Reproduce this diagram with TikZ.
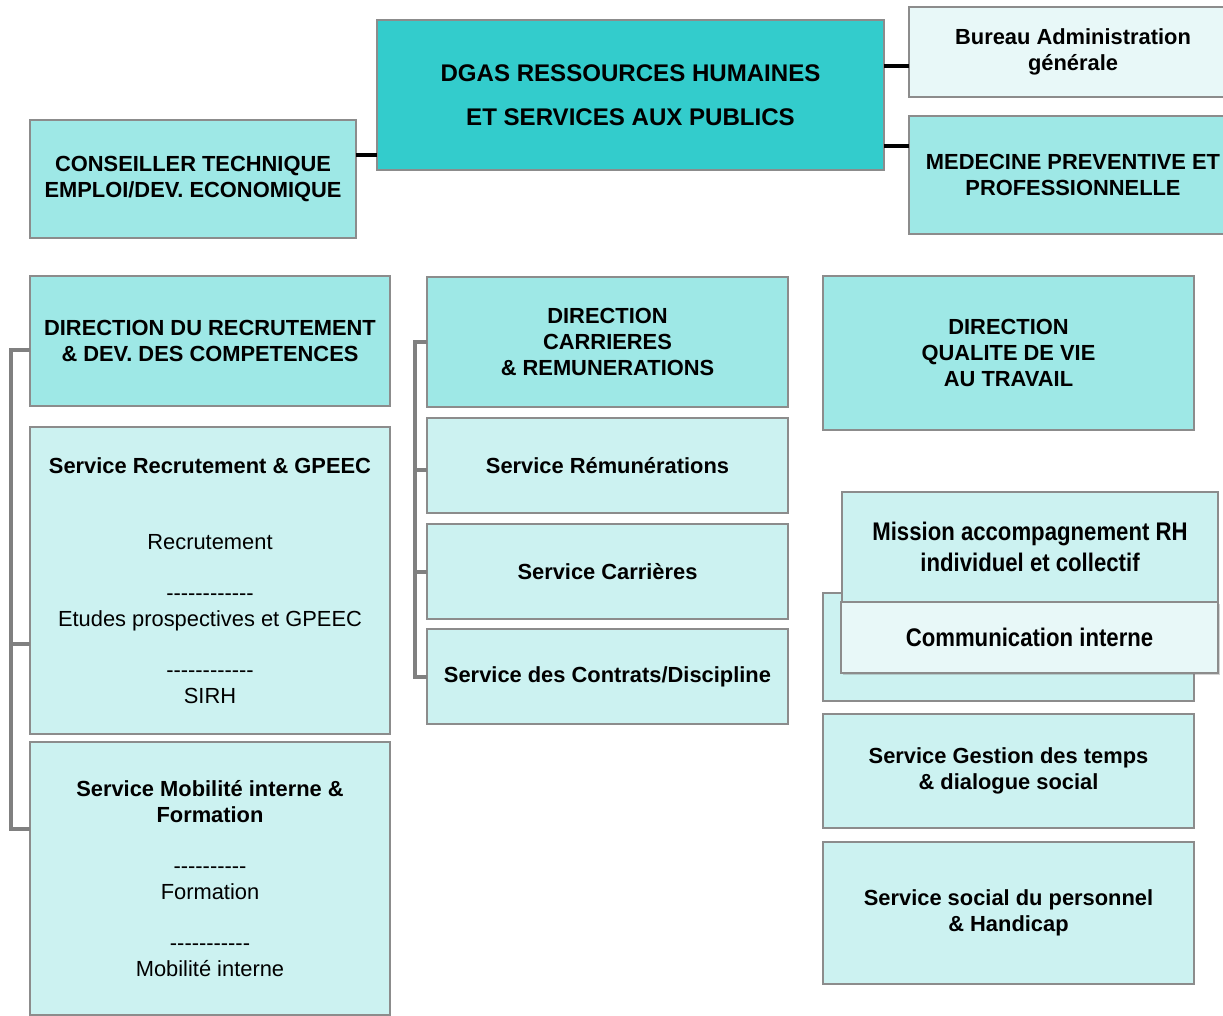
\documentclass[tikz,border=0pt]{standalone}
\usepackage{fontspec}
\setmainfont{Liberation Sans}
\newfontfamily\narrowfont{Liberation Sans}[FakeStretch=0.87]
\usepackage{tikz}
\usetikzlibrary{shadows}

\definecolor{dgasteal}{HTML}{33CCCC}
\definecolor{dirteal}{HTML}{9EE8E6}
\definecolor{servteal}{HTML}{CCF2F1}
\definecolor{paleteal}{HTML}{E8F8F8}
\definecolor{boxline}{HTML}{8C8C8C}
\newcommand\dashrow[1]{\foreach \k in {1,...,#1}{-\kern0pt}}

\begin{document}
\begin{tikzpicture}[x=0.02cm, y=-0.02cm,
  every node/.style={draw=boxline, line width=1pt, align=center, inner sep=2pt, outer sep=0pt, font=\fontsize{12.45}{14.8}\selectfont\bfseries},
  dirbox/.style={fill=dirteal},
  servbox/.style={fill=servteal},
  palebox/.style={fill=paleteal},
  link/.style={line width=2.2pt, black},
  bracket/.style={line width=2pt, color=gray}]
\useasboundingbox (0,0) rectangle (1223,1016);
\clip (0,0) rectangle (1223,1016);

\node[fill=dgasteal, minimum width=10.14cm, minimum height=3cm, font=\fontsize{13.7}{15.6}\selectfont\bfseries] (dgas) at (630.5,95) {DGAS RESSOURCES HUMAINES\\[0.33cm]ET SERVICES AUX PUBLICS};
\node[palebox, minimum width=6.56cm, minimum height=1.8cm] (bureau) at (1073,52) {Bureau Administration\\g\'en\'erale};
\node[dirbox, minimum width=6.56cm, minimum height=2.36cm] (medecine) at (1073,175) {MEDECINE PREVENTIVE ET\\PROFESSIONNELLE};
\node[dirbox, minimum width=6.52cm, minimum height=2.36cm] (conseiller) at (193,179) {CONSEILLER TECHNIQUE\\EMPLOI/DEV. ECONOMIQUE};

\node[dirbox, minimum width=7.2cm, minimum height=2.6cm] (dirrec) at (210,341) {DIRECTION DU RECRUTEMENT\\\& DEV. DES COMPETENCES};
\node[servbox, minimum width=7.2cm, minimum height=6.14cm] (servrec) at (210,580.5) {Service Recrutement \& GPEEC\\[1cm]{\mdseries Recrutement}\\[0.5cm]{\mdseries\dashrow{12}}\\{\mdseries Etudes prospectives et GPEEC}\\[0.5cm]{\mdseries\dashrow{12}}\\{\mdseries SIRH}};
\node[servbox, minimum width=7.2cm, minimum height=5.46cm] (servmob) at (210,878.5) {Service Mobilit\'e interne \&\\Formation\\[0.5cm]{\mdseries\dashrow{10}}\\{\mdseries Formation}\\[0.5cm]{\mdseries\dashrow{11}}\\{\mdseries Mobilit\'e interne}};

\node[dirbox, minimum width=7.22cm, minimum height=2.6cm] (dircar) at (607.5,342) {DIRECTION\\CARRIERES\\\& REMUNERATIONS};
\node[servbox, minimum width=7.22cm, minimum height=1.9cm] (servrem) at (607.5,465.5) {Service R\'emun\'erations};
\node[servbox, minimum width=7.22cm, minimum height=1.9cm] (servcar) at (607.5,571.5) {Service Carri\`eres};
\node[servbox, minimum width=7.22cm, minimum height=1.9cm] (servcon) at (607.5,676.5) {Service des Contrats/Discipline};

\node[dirbox, minimum width=7.42cm, minimum height=3.08cm] (dirqual) at (1008.5,353) {DIRECTION\\QUALITE DE VIE\\AU TRAVAIL};
\node[servbox, minimum width=7.42cm, minimum height=2.16cm] (backbox) at (1008.5,647) {};
\node[servbox, minimum width=7.52cm, minimum height=2.2cm, font=\narrowfont\fontsize{14.5}{17.6}\selectfont\bfseries] (mission) at (1030,547) {Mission accompagnement RH\\individuel et collectif};
\node[palebox, minimum width=7.54cm, minimum height=1.42cm, drop shadow={shadow xshift=1pt, shadow yshift=-1pt, opacity=0.35}, font=\narrowfont\fontsize{14.5}{17.6}\selectfont\bfseries] (comm) at (1029.5,637.5) {Communication interne};
\node[servbox, minimum width=7.42cm, minimum height=2.28cm] (servtemps) at (1008.5,771) {Service Gestion des temps\\\& dialogue social};
\node[servbox, minimum width=7.42cm, minimum height=2.84cm] (servsoc) at (1008.5,913) {Service social du personnel\\\& Handicap};

% links from the DGAS box
\draw[link] (conseiller.east |- 0,155) -- (dgas.west |- 0,155);
\draw[link] (dgas.east |- 0,66) -- (bureau.west |- 0,66);
\draw[link] (dgas.east |- 0,146) -- (medecine.west |- 0,146);

% brackets
\draw[bracket] (dirrec.west |- 0,350) -- (11,350) -- (11,829) -- (servmob.west |- 0,829);
\draw[bracket] (11,644) -- (servrec.west |- 0,644);
\draw[bracket] (dircar.west |- 0,342) -- (415,342) -- (415,677) -- (servcon.west |- 0,677);
\draw[bracket] (415,470) -- (servrem.west |- 0,470);
\draw[bracket] (415,572) -- (servcar.west |- 0,572);
\end{tikzpicture}
\end{document}
